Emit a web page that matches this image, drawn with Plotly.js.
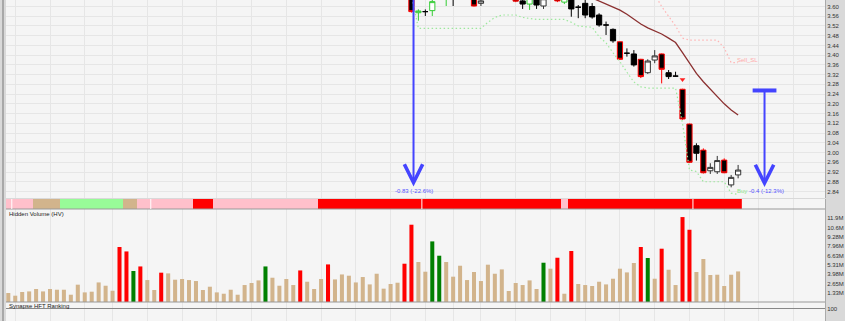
<!DOCTYPE html>
<html><head><meta charset="utf-8">
<script src="https://cdn.plot.ly/plotly-3.0.1.min.js"></script>
<style>html,body{margin:0;padding:0;background:#d9d9d9;overflow:hidden}#chart{width:845px;height:321px}</style>
</head><body><div id="chart"></div>
<script>
// ---------- DATA (bar index = trading day) ----------
const barIdx = Array.from({length: 106}, (_, i) => i);

// Hidden volume, millions
const volume = [1.28,0.90,1.43,1.51,1.85,1.51,1.85,1.75,1.75,1.04,
 2.47,1.37,1.47,2.79,2.32,1.61,7.84,7.21,4.42,5.07,
 3.13,1.71,4.18,4.08,3.18,3.28,3.13,2.99,1.71,2.18,
 1.37,1.18,1.75,1.04,2.42,2.71,3.08,5.07,3.46,2.32,
 3.28,2.42,4.50,2.89,1.85,3.28,5.36,3.22,3.93,3.75,
 2.79,3.56,2.51,4.03,1.90,2.57,2.75,5.46,11.02,5.70,
 4.32,8.64,6.60,5.70,3.61,5.17,3.13,4.28,2.99,5.32,
 4.03,4.65,1.57,2.71,2.42,3.08,1.85,5.60,4.75,6.31,
 1.18,7.27,2.57,2.42,2.28,2.89,2.51,3.32,4.75,4.22,
 5.56,7.84,6.27,3.32,7.60,4.60,2.42,12.11,10.30,4.28,
 6.13,3.85,3.89,2.28,3.89,4.36];
// bars flagged as selling (red) / buying (green) volume
const sellVolIdx = [16,17,19,22,42,46,57,58,79,81,91,94,97,98];
const buyVolIdx = [18,37,61,62,77,92];

// Signal band: runs of [state, number of bars]; P weak sell, T neutral, G buy, R sell
const bandRuns = [['P',4],['T',4],['G',9],['T',2],['P',8],['R',3],['P',15],['R',35],['P',1],['R',25]];
const bandBreaks = [0.5, 20.5, 59.5, 98.5];

// Candles visible in the price window (others sit above it)
const candleIdx   = [58,59,60,61,63,64,67,68,73,74,75,76,77,79,80,81,82,83,84,85,86,87,88,89,90,91,92,93,94,95,96,97,98,99,100,101,102,103,104,105];
const candleOpen  = [3.72,3.5745,3.579,3.583,3.64,3.67,3.66,3.613,3.66,3.623,3.610,3.635,3.602,3.66,3.618,3.64,3.597,3.613,3.600,3.565,3.524,3.506,3.455,3.408,3.405,3.383,3.328,3.380,3.405,3.328,3.314,3.260,3.117,3.028,3.010,2.925,2.921,2.969,2.867,2.908];
const candleHigh  = [3.74,3.5885,3.588,3.645,3.67,3.68,3.67,3.64,3.67,3.64,3.645,3.645,3.645,3.67,3.645,3.65,3.606,3.628,3.614,3.572,3.538,3.510,3.457,3.428,3.421,3.385,3.383,3.421,3.407,3.339,3.332,3.262,3.119,3.038,3.017,2.956,2.986,2.976,2.908,2.949];
const candleLow   = [3.575,3.5417,3.561,3.561,3.602,3.602,3.600,3.602,3.618,3.590,3.586,3.590,3.590,3.618,3.610,3.558,3.552,3.552,3.550,3.517,3.483,3.451,3.381,3.394,3.353,3.306,3.323,3.367,3.284,3.302,3.312,3.135,2.957,2.967,2.914,2.912,2.912,2.915,2.857,2.894];
const candleClose = [3.579,3.5815,3.579,3.620,3.66,3.64,3.602,3.623,3.622,3.610,3.635,3.606,3.632,3.623,3.635,3.590,3.597,3.565,3.557,3.524,3.524,3.459,3.383,3.408,3.360,3.312,3.376,3.397,3.342,3.312,3.314,3.138,2.960,2.997,2.917,2.939,2.967,2.917,2.898,2.928];
// S signal-down, D down, G up (green), U up, X doji
const candleType  = ['S','G','X','G','G','D','S','U','S','D','G','D','U','S','G','D','X','D','D','D','X','D','S','X','D','S','U','U','S','D','X','S','S','D','S','U','U','S','U','U'];

// Buy stop line
const buyStopIdx = [58,59,60,61,62,63,64,65,66,67,68,69,70,71,72,73,74,75,76,77,78,79,80,81,82,83,84,85,86,87,88,89,90,91,92,93,94,95,96,97,98,99,100,101,102,103,104,105];
const buyStop = [3.65,3.51,3.51,3.51,3.51,3.51,3.51,3.51,3.51,3.51,3.51,3.535,3.555,3.565,3.565,3.565,3.555,3.55,3.547,3.547,3.547,3.547,3.547,3.535,3.52,3.517,3.515,3.476,3.45,3.41,3.373,3.33,3.29,3.27,3.265,3.265,3.265,3.265,3.265,3.12,2.928,2.922,2.88,2.88,2.88,2.88,2.833,2.828];

// Sell stop-loss line
const sellSLIdx = [93,94,95,96,97,98,99,100,101,102,103,104,105];
const sellSL = [3.65,3.60,3.56,3.52,3.47,3.462,3.462,3.462,3.462,3.462,3.43,3.369,3.369];

// Moving average
const maIdx = [78,79,80,81,82,83,84,85,86,87,88,89,90,91,92,93,94,95,96,97,98,99,100,101,102,103,104,105];
const maVal = [3.72,3.71,3.70,3.685,3.67,3.655,3.635,3.622,3.61,3.598,3.585,3.568,3.548,3.528,3.512,3.50,3.487,3.47,3.452,3.41,3.365,3.325,3.291,3.26,3.228,3.20,3.175,3.154];

// Sell mark
const sellMarkIdx = [97];
const sellMarkPrice = [3.30];

// Move arrows
const moveIdx = [58.3, 108.8];
const moveFrom = [3.67, 3.255];
const moveTo = [2.86, 2.858];
const moveLabel = ['-0.83 (-22.6%)', '<span style="color:#8ee88e">Buy</span> -0.4 (-12.3%)'];
const moveLabelIdx = [58.3, 108.2];
const moveLabelPrice = [2.843, 2.843];

// Axis ticks
const weekTicks = [1,6,11,15,20,25,30,35,40,45,50,55,60,64,68,73,78,83,88,93,98,103,108,113];
const priceTicks = [2.84,2.88,2.92,2.96,3.00,3.04,3.08,3.12,3.16,3.20,3.24,3.28,3.32,3.36,3.40,3.44,3.48,3.52,3.56,3.60];
const volTicks = [1.3256,2.6512,3.9768,5.3024,6.628,7.9536,9.2792,10.6048,11.9304];
const volTickText = ['1.33M','2.65M','3.98M','5.31M','6.63M','7.96M','9.28M','10.6M','11.9M'];

// ---------- STYLE ----------
const volColors = barIdx.map(i => sellVolIdx.includes(i) ? '#ff0000' : buyVolIdx.includes(i) ? '#008000' : '#d2b48c');
const bandCode = {P: 0, T: 1, G: 2, R: 3};
const bandState = [];
bandRuns.forEach(([s, n]) => { for (let k = 0; k < n; k++) bandState.push(bandCode[s]); });
const bandScale = [[0,'#ffc0cb'],[0.166,'#ffc0cb'],[0.167,'#d2b48c'],[0.5,'#d2b48c'],[0.501,'#98fb98'],[0.833,'#98fb98'],[0.834,'#ff0000'],[1,'#ff0000']];
const candleStyle = {
  S: {line: '#ff0000', fill: '#000000'},
  D: {line: '#000000', fill: '#000000'},
  G: {line: '#33cc33', fill: '#ffffff'},
  U: {line: '#333333', fill: '#ffffff'},
  X: {line: '#000000', fill: '#000000'}
};
const blue = '#4444ff';
const H = 321;
const py = px => 1 - px / H;

const traces = [];
// band
traces.push({type: 'heatmap', x: barIdx.slice(0, bandState.length), y: [0.5], z: [bandState], yaxis: 'y2',
  zmin: 0, zmax: 3, colorscale: bandScale, showscale: false, hoverinfo: 'skip'});
// volume
traces.push({type: 'bar', x: barIdx, y: volume, yaxis: 'y3',
  marker: {color: volColors, line: {width: 0}}});
// hft placeholder
traces.push({type: 'scatter', x: [], y: [], yaxis: 'y4'});
// lines
traces.push({type: 'scatter', mode: 'lines', x: buyStopIdx, y: buyStop, line: {color: '#9de89d', width: 1.2, dash: '1.5px,2.5px'}});
traces.push({type: 'scatter', mode: 'lines', x: sellSLIdx, y: sellSL, line: {color: '#ffb4b4', width: 1.2, dash: '1.5px,2.5px'}});
traces.push({type: 'scatter', mode: 'lines', x: maIdx, y: maVal, line: {color: '#8b3030', width: 1.3}});
// candles by type
Object.keys(candleStyle).forEach(k => {
  const sel = candleType.map((t, i) => t === k ? i : -1).filter(i => i >= 0);
  const st = candleStyle[k];
  traces.push({type: 'candlestick', x: sel.map(i => candleIdx[i]),
    open: sel.map(i => candleOpen[i]), high: sel.map(i => candleHigh[i]),
    low: sel.map(i => candleLow[i]), close: sel.map(i => candleClose[i]),
    whiskerwidth: 0,
    increasing: {line: {color: st.line, width: 1}, fillcolor: st.fill},
    decreasing: {line: {color: st.line, width: 1}, fillcolor: st.fill}});
});
// sell mark
traces.push({type: 'scatter', mode: 'markers', x: sellMarkIdx, y: sellMarkPrice,
  marker: {symbol: 'triangle-down', size: 5, color: '#ff2020'}});
// T bar at start of second move
traces.push({type: 'scatter', mode: 'markers', x: [moveIdx[1]], y: [moveFrom[1]],
  marker: {symbol: 'line-ew', size: 17, line: {width: 4, color: blue}}});

const annotations = [];
moveIdx.forEach((xi, k) => {
  annotations.push({x: xi, y: moveTo[k], ax: xi, ay: moveFrom[k], axref: 'x', ayref: 'y', xref: 'x', yref: 'y',
    text: '', showarrow: true, arrowhead: 5, arrowsize: 1.8, arrowwidth: 2, arrowcolor: blue});
  annotations.push({x: moveLabelIdx[k], y: moveLabelPrice[k], xref: 'x', yref: 'y', text: moveLabel[k],
    showarrow: false, font: {size: 6, color: '#5555ff'}, xanchor: 'center', yanchor: 'middle'});
});
annotations.push({x: 106.4, y: 3.38, xref: 'x', yref: 'y', text: 'Sell_SL', showarrow: false,
  font: {size: 6, color: '#ffaaaa'}});
annotations.push({x: 1 / 819, y: py(213.5), xref: 'paper', yref: 'paper', text: 'Hidden Volume (HV)',
  showarrow: false, xanchor: 'left', yanchor: 'middle', font: {size: 6, color: '#222'}});
annotations.push({x: 1 / 819, y: py(306), xref: 'paper', yref: 'paper', text: 'Synapse HFT Ranking',
  showarrow: false, xanchor: 'left', yanchor: 'middle', font: {size: 6, color: '#222'}});

const shapes = [];
[209, 302].forEach(p => shapes.push({type: 'line', xref: 'paper', yref: 'paper', x0: 0, x1: 1, y0: py(p), y1: py(p), line: {color: '#999', width: 1}}));
shapes.push({type: 'line', xref: 'paper', yref: 'paper', x0: -3 / 819, x1: -3 / 819, y0: 0, y1: 1, line: {color: '#a8a8a8', width: 2}});
bandBreaks.forEach(b => shapes.push({type: 'line', xref: 'x', yref: 'y2 domain', x0: b, x1: b, y0: 0, y1: 1, line: {color: '#ffffff', width: 1}}));

const axY = {side: 'right', anchor: 'x', showline: true, linecolor: '#aaa', linewidth: 1, zeroline: false,
  ticks: '', tickfont: {size: 6, color: '#333'}, automargin: false, fixedrange: true};

const layout = {
  width: 845, height: 321,
  margin: {l: 6, r: 20, t: 0, b: 0, pad: 0},
  paper_bgcolor: '#d9d9d9', plot_bgcolor: '#f5f5f5',
  showlegend: false, hovermode: false,
  boxgap: 0.25, boxgroupgap: 0, bargap: 0.42,
  font: {family: 'Liberation Sans, Arial, sans-serif', size: 6, color: '#333'},
  xaxis: {range: [-0.33, 117.5], tickvals: weekTicks, showticklabels: false, showgrid: true, gridcolor: '#e6e6e6',
    zeroline: false, fixedrange: true, rangeslider: {visible: false}, ticks: ''},
  yaxis: Object.assign({}, axY, {domain: [py(198), 1], range: [2.8132, 3.6267], tickvals: priceTicks,
    ticktext: priceTicks.map(v => v.toFixed(2)), showgrid: true, gridcolor: '#e6e6e6'}),
  yaxis2: Object.assign({}, axY, {domain: [py(209), py(199)], range: [0, 1], showticklabels: false, showgrid: false}),
  yaxis3: Object.assign({}, axY, {domain: [py(302), py(209)], range: [0, 13.26], tickvals: volTicks, ticktext: volTickText, showgrid: false}),
  yaxis4: Object.assign({}, axY, {domain: [0, py(302)], range: [60, 123.3], tickvals: [100], ticktext: ['100'], showgrid: true, gridcolor: '#888'}),
  annotations, shapes
};

Plotly.newPlot('chart', traces, layout, {displayModeBar: false, staticPlot: true});
</script></body></html>
